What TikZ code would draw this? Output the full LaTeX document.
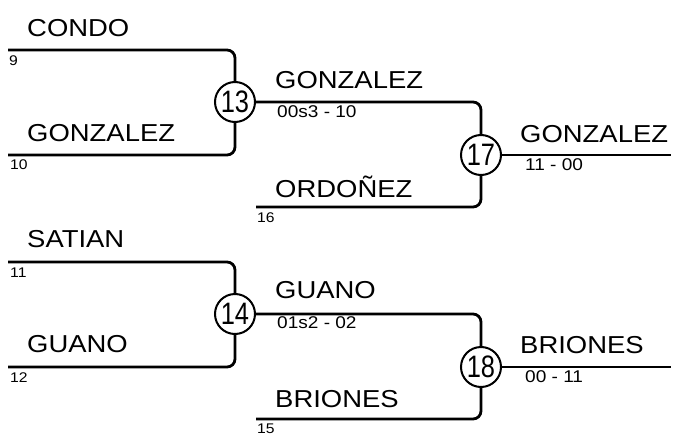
\documentclass[tikz,border=0pt]{standalone}
\usepackage{fontspec}
\setmainfont{Liberation Sans}
\newfontfamily\widefont[FakeStretch=1.12]{Liberation Sans}
\newfontfamily\narrowfont[FakeStretch=0.82]{Liberation Sans}
\begin{document}
\begin{tikzpicture}[x=1pt,y=-1pt,
  bwire/.style={line width=2.8pt,rounded corners=8pt},
  bgame/.style={circle,draw,line width=2pt,minimum size=40pt,inner sep=0pt,font=\narrowfont\fontsize{31}{31}\selectfont},
  bplayer/.style={anchor=base west,inner sep=0pt,font=\widefont\fontsize{24.5}{25}\selectfont},
  bscore/.style={anchor=base west,inner sep=0pt,font=\widefont\fontsize{17}{17}\selectfont},
  bseed/.style={anchor=base west,inner sep=0pt,font=\widefont\fontsize{14}{14}\selectfont}]
\useasboundingbox (0,0) rectangle (681,442);
% games
\node[bgame] (c13) at (235,102) {13};
\node[bgame] (c17) at (481,155) {17};
\node[bgame] (c14) at (235,314) {14};
\node[bgame] (c18) at (481,367) {18};
% line ends
\coordinate (s9) at (8,50);
\coordinate (s10) at (8,155);
\coordinate (s16) at (256,207);
\coordinate (e17) at (671,155);
\coordinate (s11) at (8,262);
\coordinate (s12) at (8,367);
\coordinate (s15) at (256,419);
\coordinate (e18) at (671,367);
% connectors
\draw[bwire] (s9) -| (c13);
\draw[bwire] (s10) -| (c13);
\draw[bwire] (c13) -| (c17);
\draw[bwire] (s16) -| (c17);
\draw[bwire] (c17) -- (e17);
\draw[bwire] (s11) -| (c14);
\draw[bwire] (s12) -| (c14);
\draw[bwire] (c14) -| (c18);
\draw[bwire] (s15) -| (c18);
\draw[bwire] (c18) -- (e18);
% names
\node[bplayer] (n1) at (27,36) {CONDO};
\node[bplayer] (n2) at (27,141.7) {GONZALEZ};
\node[bplayer] (n3) at (275,88) {GONZALEZ};
\node[bplayer] (n4) at (275,197) {ORDOÑEZ};
\node[bplayer] (n5) at (520,142) {GONZALEZ};
\node[bplayer] (n6) at (27,247) {SATIAN};
\node[bplayer] (n7) at (27,352) {GUANO};
\node[bplayer] (n8) at (275,298) {GUANO};
\node[bplayer] (n9) at (275,407) {BRIONES};
\node[bplayer] (n10) at (520,353) {BRIONES};
% seeds
\node[bseed] (d9) at (9,65) {9};
\node[bseed] (d10) at (10,169) {10};
\node[bseed] (d16) at (257,222) {16};
\node[bseed] (d11) at (10,277) {11};
\node[bseed] (d12) at (10,382) {12};
\node[bseed] (d15) at (257,433) {15};
% scores
\node[bscore] (r13) at (277,117) {00s3 - 10};
\node[bscore] (r17) at (525,170) {11 - 00};
\node[bscore] (r14) at (277,328) {01s2 - 02};
\node[bscore] (r18) at (525,382) {00 - 11};
\end{tikzpicture}
\end{document}
